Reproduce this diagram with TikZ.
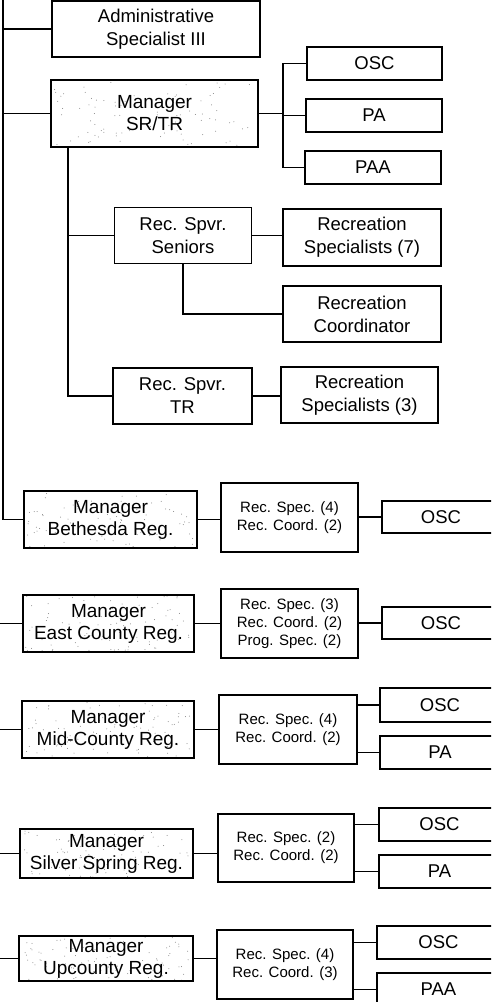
\documentclass[tikz,border=0pt]{standalone}
\usepackage{fontspec}
\setmainfont{Liberation Sans}
\usetikzlibrary{backgrounds,calc}
\tikzset{
  box/.style={draw, line width=1.2pt, inner sep=0pt, align=center,
    font=\fontsize{18.5}{23}\selectfont},
  mgr/.style={box, font=\fontsize{19}{22}\selectfont},
  midbox/.style={box, font=\fontsize{15}{18}\selectfont},
  conn/.style={line width=1.1pt},
  stip/.style={fill=black!50},
}
\newcommand\stipple[1]{%
  \begin{scope}[on background layer]
    \foreach \k in {1,...,90}{%
      \pgfmathsetmacro\uu{0.02+0.96*rnd}%
      \pgfmathsetmacro\vv{0.03+0.94*rnd}%
      \fill[stip] ($(#1.south west)!\uu!(#1.south east) + {\vv}*(#1.north west) - {\vv}*(#1.south west)$) circle (0.5);
    }
  \end{scope}}
\begin{document}
\begin{tikzpicture}[x=1pt,y=-1pt]
\useasboundingbox (0,0) rectangle (491,1002);
\clip (0,0) rectangle (491,1002);
\pgfmathsetseed{11}
% ---- top group
\node[box, minimum width=208, minimum height=56] (adm) at (156,29) {Administrative\\Specialist III};
\node[mgr, minimum width=207, minimum height=67] (srtr) at (154.5,113.5) {Manager\\SR/TR};
\node[box, minimum width=135, minimum height=33] (osc1) at (374.5,63.5) {OSC};
\node[box, minimum width=136, minimum height=33] (pa1) at (374,115.5) {PA};
\node[box, minimum width=136, minimum height=33] (paa1) at (373,167.5) {PAA};
\node[box, minimum width=137, minimum height=56] (sen) at (183,235.5) {Rec. Spvr.\\Seniors};
\node[box, minimum width=158, minimum height=57] (rs7) at (362,237.5) {Recreation\\Specialists (7)};
\node[box, minimum width=158, minimum height=56] (rc) at (362,314) {Recreation\\Coordinator};
\node[box, minimum width=139, minimum height=56] (tr) at (182.5,396) {Rec. Spvr.\\TR};
\node[box, minimum width=157, minimum height=56] (rs3) at (359.5,395) {Recreation\\Specialists (3)};
% ---- regions
\node[mgr, minimum width=173, minimum height=57] (bmgr) at (110.5,519.5) {Manager\\Bethesda Reg.};
\node[midbox, minimum width=137, minimum height=69] (bmid) at (289.5,517.5) {Rec. Spec. (4)\\Rec. Coord. (2)};
\node[box, minimum width=118, minimum height=32] (bosc) at (441,517) {OSC};

\node[mgr, minimum width=171, minimum height=57] (emgr) at (108.5,623.5) {Manager\\East County Reg.};
\node[midbox, minimum width=137, minimum height=69] (emid) at (289.5,623.5) {Rec. Spec. (3)\\Rec. Coord. (2)\\Prog. Spec. (2)};
\node[box, minimum width=118, minimum height=32] (eosc) at (441,623) {OSC};

\node[mgr, minimum width=172, minimum height=57] (mmgr) at (108,729.5) {Manager\\Mid-County Reg.};
\node[midbox, minimum width=138, minimum height=69] (mmid) at (288,729.5) {Rec. Spec. (4)\\Rec. Coord. (2)};
\node[box, minimum width=120, minimum height=34] (mosc) at (440,705) {OSC};
\node[box, minimum width=120, minimum height=33] (mpa) at (440,752.5) {PA};

\node[mgr, minimum width=173, minimum height=49] (smgr) at (106.5,853.5) {Manager\\Silver Spring Reg.};
\node[midbox, minimum width=136, minimum height=68] (smid) at (286,848) {Rec. Spec. (2)\\Rec. Coord. (2)};
\node[box, minimum width=121, minimum height=33] (sosc) at (439.5,824.5) {OSC};
\node[box, minimum width=121, minimum height=33] (spa) at (439.5,871.5) {PA};

\node[mgr, minimum width=174, minimum height=45] (umgr) at (106,958.5) {Manager\\Upcounty Reg.};
\node[midbox, minimum width=136, minimum height=69] (umid) at (285,964.5) {Rec. Spec. (4)\\Rec. Coord. (3)};
\node[box, minimum width=123, minimum height=33] (uosc) at (438.5,942.5) {OSC};
\node[box, minimum width=123, minimum height=33] (upaa) at (438.5,989.5) {PAA};

% stipple shading
\stipple{srtr}
\stipple{bmgr}
\stipple{emgr}
\stipple{mmgr}
\stipple{smgr}
\stipple{umgr}

% ---- connectors
\coordinate (trunk) at (3,-2);
\coordinate (bus1) at (283,0);
\coordinate (bus2) at (68,0);
\coordinate (edge) at (-4,0);
\draw[conn] (trunk) |- (bmgr.west);
\draw[conn] (adm.west) -- (adm.west -| trunk);
\draw[conn] (srtr.west) -- (srtr.west -| trunk);
\draw[conn] (srtr.east) -- (srtr.east -| bus1);
\draw[conn] (osc1.west) -- (osc1.west -| bus1) -- (paa1.west -| bus1) -- (paa1.west);
\draw[conn] (pa1.west) -- (pa1.west -| bus1);
\draw[conn] (srtr.south -| bus2) -- (tr.west -| bus2) -- (tr.west);
\draw[conn] (sen.west -| bus2) -- (sen.west);
\draw[conn] (sen.east) -- (sen.east -| rs7.west);
\draw[conn] (sen.south) -- (sen.south |- rc.west) -- (rc.west);
\draw[conn] (tr.east) -- (tr.east -| rs3.west);

\draw[conn] (bmgr.east) -- (bmgr.east -| bmid.west);
\draw[conn] (bosc.west) -- (bosc.west -| bmid.east);

\draw[conn] (emgr.west) -- (emgr.west -| edge);
\draw[conn] (emgr.east) -- (emgr.east -| emid.west);
\draw[conn] (eosc.west) -- (eosc.west -| emid.east);

\draw[conn] (mmgr.west) -- (mmgr.west -| edge);
\draw[conn] (mmgr.east) -- (mmgr.east -| mmid.west);
\draw[conn] (mosc.west) -- (mosc.west -| mmid.east);
\draw[conn] (mpa.west) -- (mpa.west -| mmid.east);

\draw[conn] (smgr.west) -- (smgr.west -| edge);
\draw[conn] (smgr.east) -- (smgr.east -| smid.west);
\draw[conn] (sosc.west) -- (sosc.west -| smid.east);
\draw[conn] (spa.west) -- (spa.west -| smid.east);

\draw[conn] (umgr.west) -- (umgr.west -| edge);
\draw[conn] (umgr.east) -- (umgr.east -| umid.west);
\draw[conn] (uosc.west) -- (uosc.west -| umid.east);
\draw[conn] (upaa.west) -- (upaa.west -| umid.east);
\end{tikzpicture}
\end{document}
